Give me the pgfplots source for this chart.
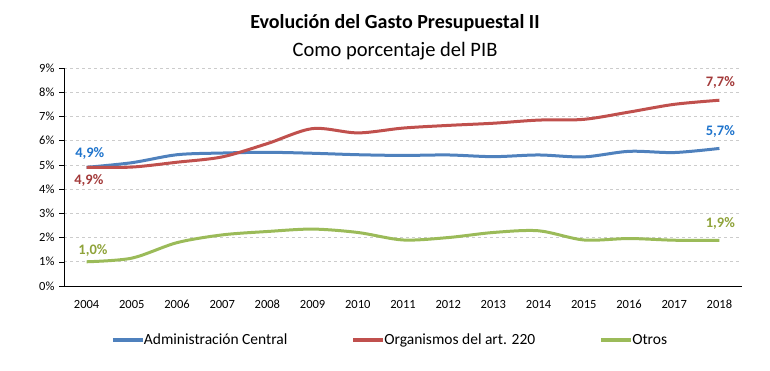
\documentclass[border=0pt]{standalone}
\usepackage{pgfplots}
\pgfplotsset{compat=1.18}
\usepackage{fontspec}
\setmainfont{Carlito}
\definecolor{cblue}{HTML}{4F81BD}
\definecolor{cred}{HTML}{C0504D}
\definecolor{cgreen}{HTML}{9BBB59}
\definecolor{lblue}{HTML}{1F74CC}
\definecolor{lred}{HTML}{A33A3A}
\definecolor{lgreen}{HTML}{8FA33A}
\begin{document}
\begin{tikzpicture}[x=1pt,y=1pt]
\useasboundingbox (0,0) rectangle (770,370);
\node[font=\fontsize{20}{23}\selectfont\bfseries, anchor=base] at (395,341) {Evolución del Gasto Presupuestal II};
\node[font=\fontsize{20.5}{23}\selectfont, anchor=base] at (395,313) {Como porcentaje del PIB};
\begin{axis}[
  at={(64pt,84pt)}, anchor=south west,
  scale only axis, width=678pt, height=218pt,
  xmin=-0.5, xmax=14.5, ymin=0, ymax=9,
  xtick={0,...,14},
  xticklabels={2004,2005,2006,2007,2008,2009,2010,2011,2012,2013,2014,2015,2016,2017,2018},
  ytick={0,...,9},
  yticklabel={\pgfmathprintnumber{\tick}\%},
  /pgf/number format/assume math mode=true,
  ticklabel style={font=\fontsize{12.5}{14}\selectfont},
  axis x line*=bottom, axis y line*=left,
  x axis line style={-}, y axis line style={-},
  xtick style={draw=none},
  ytick style={black, thin},
  tick align=outside, major tick length=5pt,
  xticklabel style={yshift=-5pt, text height=9pt, text depth=0pt},
  yticklabel style={xshift=-1pt},
  ymajorgrids, grid style={dashed, gray!40, line width=0.6pt},
  legend style={at={(0.5,0)}, anchor=center, xshift=-13pt, yshift=-54pt,
    draw=none, legend columns=3,
    font=\fontsize{15.5}{18}\selectfont,
    /tikz/every odd column/.append style={column sep=-3pt},
    /tikz/every even column/.append style={column sep=62pt}},
  legend image code/.code={\draw[#1, line width=4pt] (0pt,0pt) -- (30pt,0pt);},
  clip=false,
]
\addplot[cblue, line width=3pt, smooth, tension=0.5] coordinates {
(0,4.90) (1,5.09) (2,5.42) (3,5.49) (4,5.52) (5,5.48) (6,5.42) (7,5.39) (8,5.41) (9,5.34) (10,5.41) (11,5.33) (12,5.56) (13,5.51) (14,5.68)};
\addlegendentry{Administración Central}
\addplot[cred, line width=3pt, smooth, tension=0.5] coordinates {
(0,4.90) (1,4.91) (2,5.11) (3,5.33) (4,5.88) (5,6.50) (6,6.32) (7,6.52) (8,6.63) (9,6.72) (10,6.85) (11,6.88) (12,7.18) (13,7.50) (14,7.67)};
\addlegendentry{Organismos del art. 220}
\addplot[cgreen, line width=3pt, smooth, tension=0.5] coordinates {
(0,1.00) (1,1.15) (2,1.79) (3,2.11) (4,2.25) (5,2.35) (6,2.21) (7,1.90) (8,2.00) (9,2.21) (10,2.28) (11,1.90) (12,1.96) (13,1.89) (14,1.88)};
\addlegendentry{Otros}
\node[lblue, font=\fontsize{14.5}{16}\selectfont\bfseries] at (axis cs:0.07,5.47) {4,9\%};
\node[lred, font=\fontsize{14.5}{16}\selectfont\bfseries] at (axis cs:0.05,4.36) {4,9\%};
\node[lgreen, font=\fontsize{14.5}{16}\selectfont\bfseries] at (axis cs:0.14,1.46) {1,0\%};
\node[lred, font=\fontsize{14.5}{16}\selectfont\bfseries] at (axis cs:14.02,8.42) {7,7\%};
\node[lblue, font=\fontsize{14.5}{16}\selectfont\bfseries] at (axis cs:14.02,6.36) {5,7\%};
\node[lgreen, font=\fontsize{14.5}{16}\selectfont\bfseries] at (axis cs:14.02,2.58) {1,9\%};
\end{axis}
\end{tikzpicture}
\end{document}
